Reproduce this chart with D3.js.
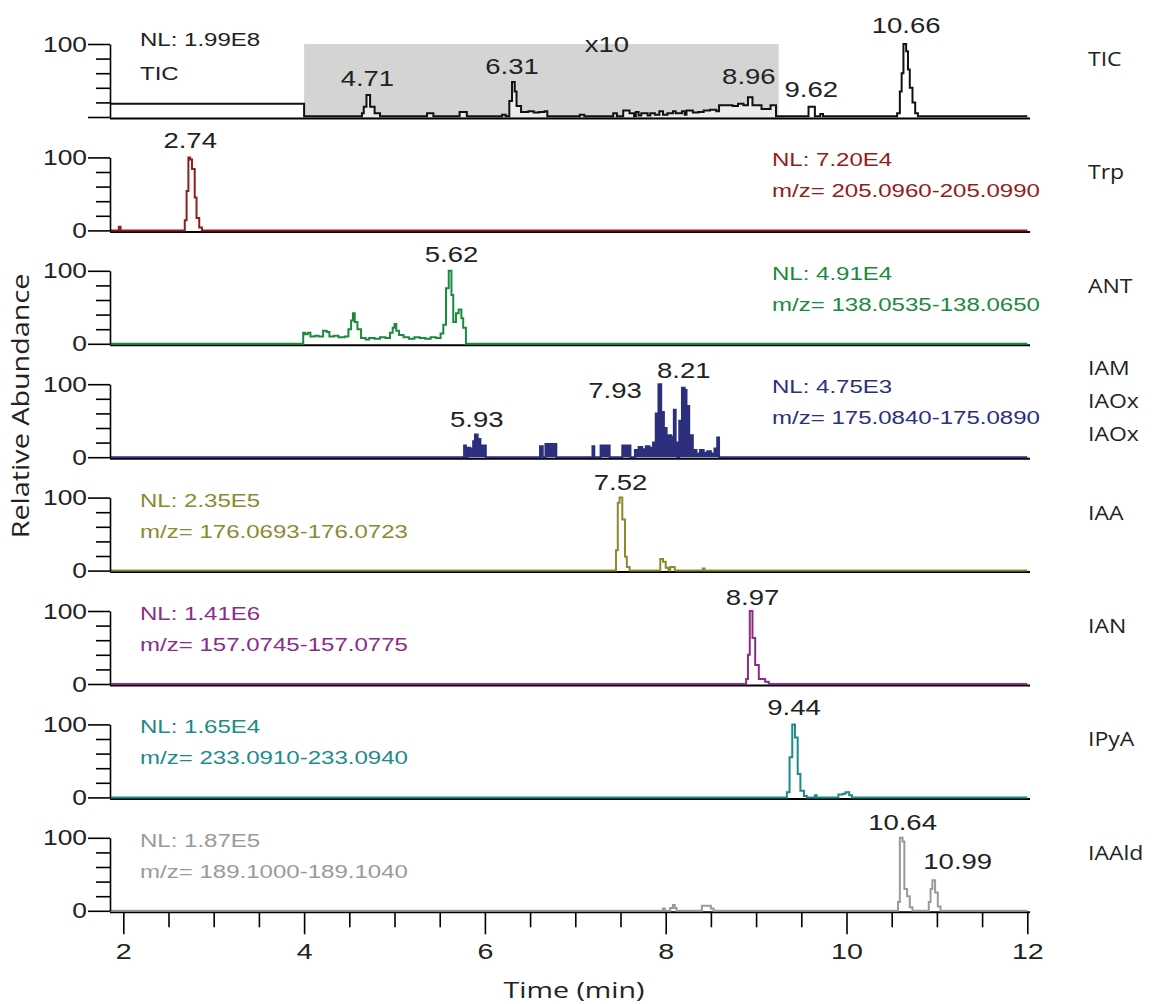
<!DOCTYPE html>
<html>
<head>
<meta charset="utf-8">
<script src="https://cdn.jsdelivr.net/npm/d3@7"></script>
<style>
  body { margin: 0; background: #fff; }
  svg { display: block; }
</style>
</head>
<body>
<div id="chart"></div>
<script>
// ---- data (time in min, relative abundance in %) ----
const ticTrace = [[1.853,18],[4.00,1],[4.64,5],[4.66,14],[4.69,30],[4.73,14],[4.78,5],[4.84,1],[5.36,5],[5.43,1],[5.72,7],[5.80,1],[6.19,3],[6.23,1],[6.27,22],[6.30,48],[6.33,35],[6.35,15],[6.40,7],[6.48,8],[6.54,6],[6.60,7],[6.66,8],[6.69,1],[7.05,3],[7.10,1],[7.42,5],[7.46,1],[7.53,9],[7.60,5],[7.65,1],[7.67,7],[7.70,2],[7.73,5],[7.80,2],[7.83,5],[7.88,3],[7.93,8],[7.97,3],[8.02,5],[8.08,8],[8.11,5],[8.18,8],[8.21,3],[8.23,9],[8.30,6],[8.36,7],[8.42,9],[8.49,10],[8.56,8],[8.59,16],[8.74,15],[8.80,18],[8.86,16],[8.91,27],[8.96,16],[9.06,11],[9.16,16],[9.22,1],[9.58,14],[9.65,1],[9.71,4],[9.74,1],[10.56,5],[10.59,35],[10.61,60],[10.63,100],[10.66,90],[10.68,65],[10.70,40],[10.73,20],[10.76,5],[10.79,1],[12,1]];
const trpTrace = [[1.853,0],[1.94,0],[1.95,5],[1.97,0],[2.67,0],[2.68,14],[2.70,54],[2.72,100],[2.74,97],[2.76,84],[2.79,45],[2.81,17],[2.84,4],[2.87,0],[12,0]];
const antTrace = [[1.853,0],[3.98,0],[3.99,15],[4.01,13],[4.04,15],[4.07,10],[4.12,11],[4.16,10],[4.21,18],[4.25,16],[4.28,10],[4.33,11],[4.38,9],[4.45,10],[4.49,20],[4.52,32],[4.54,42],[4.56,30],[4.59,20],[4.63,8],[4.68,6],[4.72,8],[4.78,7],[4.84,9],[4.90,8],[4.95,15],[4.98,22],[5.00,27],[5.02,18],[5.05,12],[5.10,9],[5.16,7],[5.22,9],[5.28,8],[5.34,7],[5.40,9],[5.46,8],[5.51,14],[5.54,26],[5.57,76],[5.60,100],[5.63,67],[5.65,30],[5.68,42],[5.71,47],[5.74,35],[5.76,22],[5.79,0],[12,0]];
const iamTrace = [[1.853,0],[5.76,0],[5.77,16],[5.79,0],[5.81,13],[5.84,11],[5.87,22],[5.89,31],[5.92,25],[5.95,16],[6.01,0],[6.60,0],[6.61,15],[6.64,0],[6.67,18],[6.79,0],[7.18,0],[7.19,15],[7.21,0],[7.28,16],[7.38,0],[7.50,0],[7.52,16],[7.61,0],[7.66,10],[7.70,14],[7.74,11],[7.78,15],[7.82,13],[7.86,20],[7.89,60],[7.92,100],[7.95,62],[7.98,40],[8.01,30],[8.06,28],[8.09,65],[8.11,20],[8.13,0],[8.15,50],[8.18,95],[8.21,92],[8.23,70],[8.26,30],[8.30,10],[8.34,5],[8.38,10],[8.42,6],[8.46,8],[8.50,5],[8.54,12],[8.57,27],[8.59,0],[12,0]];
const iaaTrace = [[1.853,0],[7.44,0],[7.45,28],[7.47,93],[7.49,100],[7.52,70],[7.55,19],[7.57,5],[7.60,0],[7.93,0],[7.94,16],[7.97,12],[8.00,4],[8.03,0],[8.05,5],[8.10,0],[8.40,0],[8.41,3],[8.43,0],[12,0]];
const ianTrace = [[1.853,0],[8.88,0],[8.89,7],[8.91,40],[8.93,100],[8.96,63],[8.99,26],[9.03,7],[9.10,3],[9.14,0],[12,0]];
const ipyaTrace = [[1.853,0],[9.33,0],[9.34,7],[9.37,55],[9.40,100],[9.43,82],[9.46,32],[9.49,9],[9.53,2],[9.56,0],[9.64,0],[9.65,3],[9.67,0],[9.90,0],[9.91,4],[9.96,5],[9.99,7],[10.03,3],[10.06,0],[12,0]];
const iaaldTrace = [[1.853,0],[7.96,0],[7.97,3],[7.99,0],[8.05,4],[8.08,8],[8.10,4],[8.12,0],[8.39,0],[8.40,7],[8.50,3],[8.53,0],[10.56,0],[10.57,12],[10.59,100],[10.62,95],[10.64,30],[10.67,20],[10.70,5],[10.73,0],[10.90,0],[10.91,12],[10.93,30],[10.95,42],[10.98,25],[11.01,6],[11.04,0],[12,0]];

const traces = [ticTrace, trpTrace, antTrace, iamTrace, iaaTrace, ianTrace, ipyaTrace, iaaldTrace];
const compounds = [["TIC"], ["Trp"], ["ANT"], ["IAM", "IAOx", "IAOx"], ["IAA"], ["IAN"], ["IPyA"], ["IAAld"]];
const nlLabels = ["NL: 1.99E8", "NL: 7.20E4", "NL: 4.91E4", "NL: 4.75E3", "NL: 2.35E5", "NL: 1.41E6", "NL: 1.65E4", "NL: 1.87E5"];
const mzLabels = ["TIC", "m/z= 205.0960-205.0990", "m/z= 138.0535-138.0650", "m/z= 175.0840-175.0890",
  "m/z= 176.0693-176.0723", "m/z= 157.0745-157.0775", "m/z= 233.0910-233.0940", "m/z= 189.1000-189.1040"];
// peak label: text, time, level (label baseline in % units)
const peakLabels = [
  [["4.71", 4.70, 42], ["6.31", 6.30, 59], ["8.96", 8.92, 45], ["9.62", 9.61, 27], ["10.66", 10.66, 115]],
  [["2.74", 2.74, 113]],
  [["5.62", 5.63, 112]],
  [["5.93", 5.91, 42], ["7.93", 7.44, 81], ["8.21", 8.20, 108]],
  [["7.52", 7.50, 110]],
  [["8.97", 8.96, 108]],
  [["9.44", 9.42, 113]],
  [["10.64", 10.62, 111], ["10.99", 11.23, 57]]
];
const zoomRange = [4.0, 9.25];
const zoomLabel = ["x10", 7.35, 89];
const xTicks = [2, 2.5, 3, 3.5, 4, 4.5, 5, 5.5, 6, 6.5, 7, 7.5, 8, 8.5, 9, 9.5, 10, 10.5, 11, 11.5, 12];
const yTicks = [0, 20, 40, 60, 80, 100];

const colors = ["#111111", "#931c1c", "#1b8a3e", "#2b2f7e", "#8c8a2e", "#8b2c8b", "#1b8b8b", "#9a9a9a"];
const nlLeft = [true, false, false, false, true, true, true, true];

// ---- layout ----
const W = 1153, H = 1004;
const left = 110, right = 1030;
const panelGap = 113.4, panelH = 74, firstBase = 118;
const sans = "'Liberation Sans', Arial, sans-serif";
const open = "'Open Sans', sans-serif";

const svg = d3.select("#chart").append("svg")
  .attr("width", W)
  .attr("height", H);

const x = d3.scaleLinear().domain([2, 12]).range([123.3, 1027.3]);

// stretch text horizontally (source figure is wider than tall)
function stretch(sel, sx) {
  sel.each(function() {
    const t = d3.select(this);
    const tx = +t.attr("x") || 0, ty = +t.attr("y") || 0;
    t.attr("x", 0).attr("y", 0).attr("transform", `translate(${tx},${ty}) scale(${sx},1)`);
  });
}

traces.forEach((data, i) => {
  const base = firstBase + panelGap * i;
  const y = d3.scaleLinear().domain([0, 100]).range([base - 1, base - panelH]);
  const g = svg.append("g");

  if (i === 0) {
    g.append("rect")
      .attr("x", x(zoomRange[0]))
      .attr("y", y(100))
      .attr("width", x(zoomRange[1]) - x(zoomRange[0]))
      .attr("height", base - y(100))
      .attr("fill", "#d4d4d4");
    g.append("text")
      .attr("x", x(zoomLabel[1]))
      .attr("y", y(zoomLabel[2]))
      .attr("text-anchor", "middle")
      .attr("font-family", sans)
      .attr("font-size", 22)
      .attr("fill", "#222")
      .text(zoomLabel[0])
      .call(stretch, 1.25);
  }

  // baseline
  g.append("line")
    .attr("x1", left).attr("x2", right)
    .attr("y1", base + 0.5).attr("y2", base + 0.5)
    .attr("stroke", "#000").attr("stroke-width", 2);

  const area = d3.area()
    .x(d => x(d[0]))
    .y0(y(0))
    .y1(d => y(d[1]))
    .curve(d3.curveStepAfter);
  const line = d3.line()
    .x(d => x(d[0]))
    .y(d => y(d[1]))
    .curve(d3.curveStepAfter);

  g.append("path")
    .attr("d", area(data))
    .attr("fill", i === 3 ? colors[i] : "#fff")
    .attr("fill-opacity", i === 0 ? 0.55 : 1);
  g.append("path")
    .attr("d", line(data))
    .attr("fill", "none")
    .attr("stroke", colors[i])
    .attr("stroke-width", 2)
    .attr("stroke-linejoin", "miter");

  // y axis
  const ya = g.append("g")
    .attr("transform", `translate(${left},0)`)
    .call(d3.axisLeft(y).tickValues(yTicks).tickSize(22).tickSizeOuter(0).tickPadding(1)
      .tickFormat(d => (d === 100 || (d === 0 && i > 0)) ? d : ""));
  ya.select(".domain").attr("stroke-width", 1.6);
  ya.selectAll(".tick line").attr("x2", d => d % 100 === 0 ? -22 : -14).attr("stroke-width", 1.6);
  ya.selectAll("text").attr("font-family", sans).attr("font-size", 22).attr("fill", "#222");
  stretch(ya.selectAll("text"), 1.2);

  // NL / m/z text
  const top = base - panelH;
  const tx = nlLeft[i] ? 140 : 772;
  const y1 = i === 0 ? top + 2 : top + 9;
  const y2 = i === 0 ? top + 36 : top + 40;
  const txtColor = i === 0 ? "#222" : colors[i];
  g.append("text").attr("x", tx).attr("y", y1)
    .attr("font-family", sans).attr("font-size", 18.5).attr("fill", txtColor)
    .text(nlLabels[i]).call(stretch, 1.3);
  g.append("text").attr("x", tx).attr("y", y2)
    .attr("font-family", sans).attr("font-size", 18.5).attr("fill", txtColor)
    .text(mzLabels[i]).call(stretch, 1.3);

  // peak labels
  peakLabels[i].forEach(p => {
    g.append("text")
      .attr("x", x(p[1]))
      .attr("y", y(p[2]))
      .attr("text-anchor", "middle")
      .attr("font-family", sans)
      .attr("font-size", 22)
      .attr("fill", "#222")
      .text(p[0])
      .call(stretch, 1.25);
  });

  // compound names on the right
  const names = compounds[i];
  const offs = names.length === 1 ? [22] : [-9, 24, 57];
  names.forEach((n, k) => {
    g.append("text")
      .attr("x", 1088)
      .attr("y", top + offs[k])
      .attr("font-family", open)
      .attr("font-size", 20)
      .attr("fill", "#222")
      .text(n)
      .call(stretch, 1.15);
  });

  // bottom x axis
  if (i === traces.length - 1) {
    const xa = g.append("g")
      .attr("transform", `translate(0,${base + 0.5})`)
      .call(d3.axisBottom(x).tickValues(xTicks).tickSize(22).tickPadding(9)
        .tickFormat(d => d % 2 === 0 ? d : ""));
    xa.select(".domain").remove();
    xa.selectAll(".tick line").attr("y2", d => d % 2 === 0 ? 22 : 15).attr("stroke-width", 1.6);
    xa.selectAll("text").attr("font-family", sans).attr("font-size", 22).attr("fill", "#222");
    stretch(xa.selectAll("text"), 1.3);
  }
});

// axis titles
svg.append("text")
  .attr("transform", "translate(574,998) scale(1.3,1)")
  .attr("text-anchor", "middle")
  .attr("font-family", open)
  .attr("font-size", 22)
  .attr("fill", "#222")
  .text("Time (min)");

svg.append("text")
  .attr("transform", "translate(29,406) rotate(-90) scale(1.25,1)")
  .attr("text-anchor", "middle")
  .attr("font-family", open)
  .attr("font-size", 23)
  .attr("fill", "#222")
  .text("Relative Abundance");
</script>
</body>
</html>
